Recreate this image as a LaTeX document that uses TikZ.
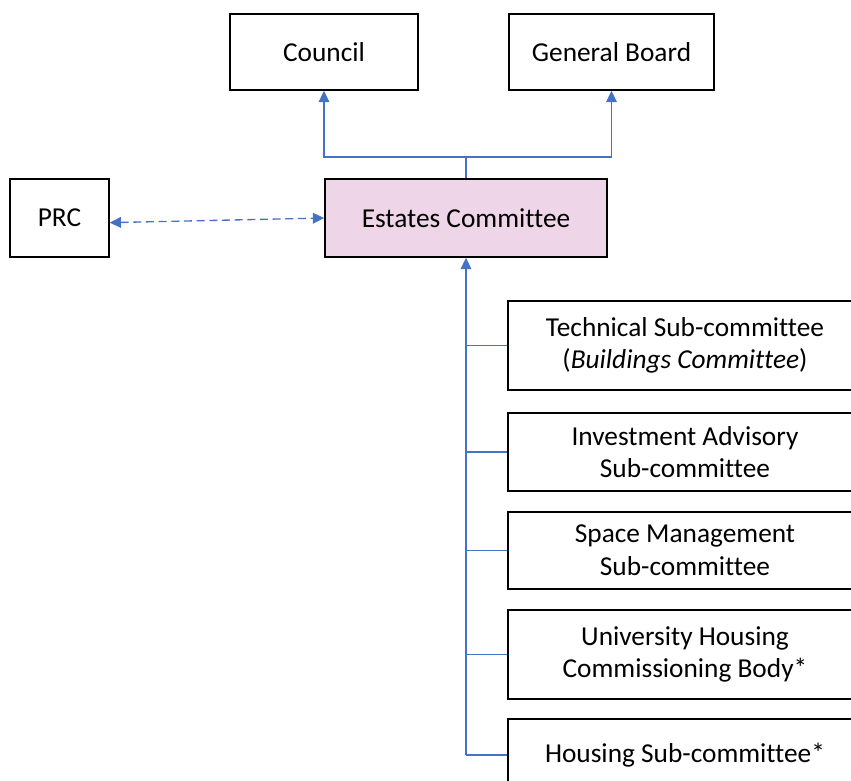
\documentclass[tikz,border=0pt]{standalone}
\usepackage{fontspec}
\setmainfont{Carlito}[Ligatures=NoCommon]
\usepackage{xcolor}
\usepackage{tikz}
\usetikzlibrary{arrows.meta}
\definecolor{estatespink}{RGB}{239, 213, 232}
\definecolor{linkblue}{RGB}{68, 114, 196}

\begin{document}
\begin{tikzpicture}[x=0.75pt, y=-0.75pt,
    box/.style={draw=black, line width=1.2pt, fill=white, align=center,
        inner sep=0pt, font=\fontsize{20.5}{24.5}\selectfont},
    link/.style={draw=linkblue, line width=1pt},
    tip/.style={-{Triangle[length=8.5pt,width=8pt]}}]
    \clip (0,0) rectangle (851,781);
    \useasboundingbox (0,0) rectangle (851,781);

    % Top bodies
    \node[box, minimum width=141pt, minimum height=57pt] (council) at (324,52) {Council};
    \node[box, minimum width=154pt, minimum height=57pt] (board) at (611.5,52) {General Board};

    % Committee and PRC
    \node[box, minimum width=74pt, minimum height=58.5pt] (prc) at (59.5,218) {PRC};
    \node[box, fill=estatespink, minimum width=211.5pt, minimum height=58.5pt] (est) at (466,218) {Estates Committee};

    % Sub-committees
    \node[box, minimum width=265.5pt, minimum height=67pt] (sub1) at (685,345.5)
        {Technical Sub-committee\\(\textit{Buildings Committee})};
    \node[box, minimum width=265.5pt, minimum height=58.5pt] (sub2) at (685,452)
        {Investment Advisory\\Sub-committee};
    \node[box, minimum width=265.5pt, minimum height=58pt] (sub3) at (685,550.5)
        {Space Management\\Sub-committee};
    \node[box, minimum width=265.5pt, minimum height=67pt] (sub4) at (685,654.5)
        {University Housing\\Commissioning Body*};
    \node[box, minimum width=265.5pt, minimum height=54pt] (sub5) at (685,755)
        {Housing Sub-committee*};

    % Reporting lines upwards
    \coordinate (bus) at (466,157);
    \draw[link] (est.north) -- (bus);
    \draw[link, tip] (bus) -| (council.south);
    \draw[link, tip] (bus) -| (board.south);

    % Link with PRC
    \draw[link, dashed, dash pattern=on 6pt off 3.5pt,
        {Triangle[length=8.5pt,width=8pt]}-{Triangle[length=8.5pt,width=8pt]}]
        ([yshift=-3.5pt]prc.east) -- (est.west);

    % Spine from the sub-committees
    \draw[link, tip] (est.south |- sub5.west) -- (est.south);
    \foreach \n in {sub1,sub2,sub3,sub4,sub5} {
        \draw[link] (est.south |- \n.west) -- (\n.west);
    }
\end{tikzpicture}
\end{document}
